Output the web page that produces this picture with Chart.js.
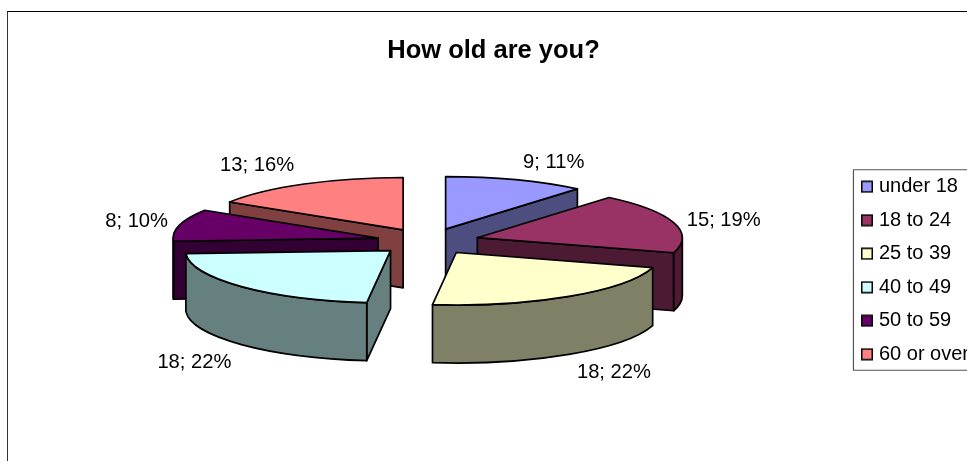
<!DOCTYPE html>
<html>
<head>
<meta charset="utf-8">
<style>
html,body{margin:0;padding:0;width:967px;height:461px;overflow:hidden;background:#fff}
#wrap{position:absolute;left:7px;top:11px;width:972px;height:518px;border-top:1px solid #000;border-left:1.5px solid #333;box-sizing:content-box}
canvas{display:block}
</style>
<script src="https://cdn.jsdelivr.net/npm/chart.js@4"></script>
</head>
<body>
<div id="wrap"><canvas id="c" width="971" height="517"></canvas></div>
<script>
const titleText = "How old are you?";
const categories = ["under 18","18 to 24","25 to 39","40 to 49","50 to 59","60 or over"];
const values = [9,15,18,18,8,13];
const topColors = ["#9999FF","#993366","#FFFFCC","#CCFFFF","#660066","#FF8080"];
const sideColors = ["#4D4D80","#4D1A33","#808066","#668080","#330033","#804040"];
const paintOrder = [0,5,1,4,2,3];
const labelNudges = [[38,-17.5],[50,-2.5],[45,76.5],[-47,75.5],[-43,-4],[-47,-19]];

const FONT = '"Liberation Sans", Arial, sans-serif';
const PIE_X = 420, PIE_Y = 229.5, TILT = 0.256, EXPLODE = 51.5, DEPTH = 58, RADIUS = 205;
const total = values.reduce((a,b)=>a+b,0);

function swatch(color){
  const s = document.createElement('canvas');
  s.width = 14; s.height = 13;
  const g = s.getContext('2d');
  g.fillStyle = color; g.fillRect(0.5,1,11,11);
  g.strokeStyle = '#000'; g.lineWidth = 1.5; g.strokeRect(0.75,1.25,10.5,10.5);
  return s;
}

const pie3d = {
  id:'pie3d',
  beforeDatasetDraw(chart){
    const ctx = chart.ctx;
    const arcs = chart.getDatasetMeta(0).data;
    const d = DEPTH/TILT;
    ctx.lineWidth = 1.7; ctx.strokeStyle = '#000'; ctx.lineJoin = 'round';
    paintOrder.forEach(i=>{
      const el = arcs[i];
      const a = el.startAngle, b = el.endAngle, h = (a+b)/2, r = el.outerRadius, x = el.x, y = el.y;
      const place = ()=>{
        ctx.translate(PIE_X,PIE_Y); ctx.scale(1,TILT);
        ctx.translate(Math.cos(h)*EXPLODE - x, Math.sin(h)*EXPLODE - y);
      };
      const face = (color,build)=>{
        ctx.save(); place(); ctx.beginPath(); build(); ctx.restore();
        if(color){ctx.fillStyle = color; ctx.fill();}
        ctx.stroke();
      };
      const radial = t=>()=>{
        const px = x+r*Math.cos(t), py = y+r*Math.sin(t);
        ctx.moveTo(x,y); ctx.lineTo(px,py); ctx.lineTo(px,py+d); ctx.lineTo(x,y+d); ctx.closePath();
      };
      if(Math.cos(a)<0) face(sideColors[i],radial(a));
      if(Math.cos(b)>0) face(sideColors[i],radial(b));
      const lo = Math.max(a,0), hi = Math.min(b,Math.PI);
      if(hi>lo) face(sideColors[i],()=>{
        ctx.arc(x,y,r,lo,hi); ctx.arc(x,y+d,r,hi,lo,true); ctx.closePath();
      });
      ctx.save(); place(); el.draw(ctx); ctx.restore();
      face(null,()=>{ctx.moveTo(x,y); ctx.arc(x,y,r,a,b); ctx.closePath();});
    });
    ctx.fillStyle = '#000'; ctx.font = '20.2px '+FONT;
    ctx.textAlign = 'center'; ctx.textBaseline = 'middle';
    arcs.forEach((el,i)=>{
      const h = (el.startAngle+el.endAngle)/2;
      const R = el.outerRadius;
      const lx = PIE_X + Math.cos(h)*(EXPLODE+R) + labelNudges[i][0];
      const ly = PIE_Y + Math.sin(h)*(EXPLODE+R)*TILT + labelNudges[i][1];
      ctx.fillText(values[i]+'; '+Math.round(values[i]/total*100)+'%', lx, ly);
    });
    return false;
  },
  afterDraw(chart){
    const lg = chart.legend, hb = lg.legendHitBoxes, ctx = chart.ctx;
    const top = hb[0].top - 7, bot = hb[hb.length-1].top + hb[hb.length-1].height + 6;
    ctx.save(); ctx.strokeStyle = '#555'; ctx.lineWidth = 1.2;
    ctx.strokeRect(lg.left, top, lg.width, bot-top);
    ctx.restore();
  }
};

new Chart(document.getElementById('c'),{
  type:'pie',
  data:{labels:categories,datasets:[{data:values,backgroundColor:topColors,borderWidth:0}]},
  options:{
    responsive:false, animation:false, devicePixelRatio:1, events:[],
    radius:RADIUS,
    layout:{padding:0},
    plugins:{
      tooltip:{enabled:false},
      title:{display:true,text:titleText,color:'#000',
        font:{family:FONT,size:25.5,weight:'bold',lineHeight:1.2},padding:{top:24,bottom:8}},
      legend:{position:'right',align:'center',
        labels:{color:'#000',font:{family:FONT,size:20},padding:13.5,
          usePointStyle:true,pointStyleWidth:2,
          generateLabels:()=>categories.map((t,i)=>({text:t,fillStyle:topColors[i],strokeStyle:'#000',lineWidth:1,
            pointStyle:swatch(topColors[i]),hidden:false,index:i,fontColor:'#000'}))}}
    }
  },
  plugins:[pie3d]
});
</script>
</body>
</html>
